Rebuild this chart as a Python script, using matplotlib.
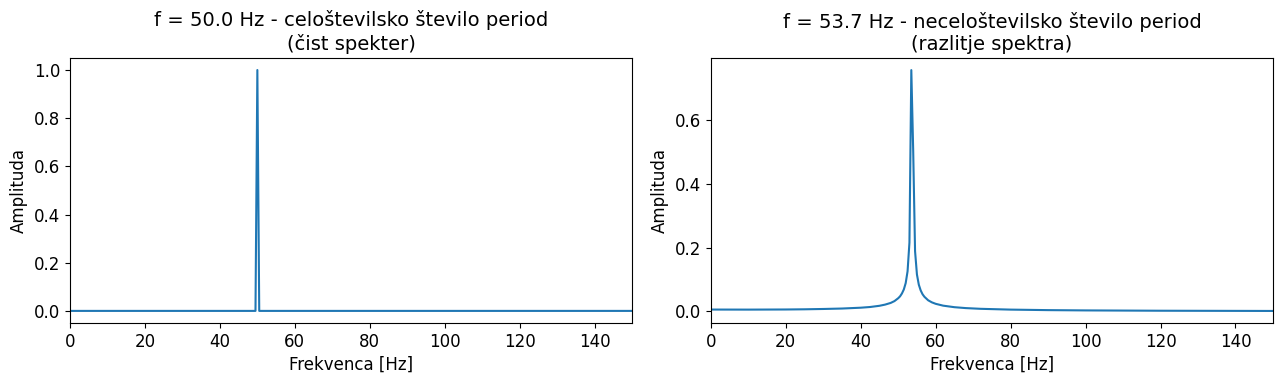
import matplotlib
matplotlib.use("Agg")
import matplotlib.pyplot as plt

# spekter pri f = 50.0 Hz (celo stevilo period) - locljivost 0.5 Hz
freq_a = [0.0, 49.0, 49.5, 50.0, 50.5, 51.0, 150.0, 160.0]
amp_a = [0.0, 0.0, 0.0, 1.0, 0.0, 0.0, 0.0, 0.0]

# spekter pri f = 53.7 Hz (razlitje spektra)
freq_b = [0.0, 10.0, 20.0, 25.0, 30.0, 35.0, 40.0, 42.5, 45.0, 46.5, 48.0,
          49.0, 50.0, 50.5, 51.0, 51.5, 52.0, 52.5, 53.0, 53.5, 54.0, 54.5,
          55.0, 55.5, 56.0, 56.5, 57.0, 58.0, 59.0, 60.0, 62.0, 65.0, 68.0,
          72.0, 80.0, 90.0, 100.0, 120.0, 150.0, 160.0]
amp_b = [0.006, 0.0058, 0.0062, 0.0068, 0.0078, 0.0092, 0.0118, 0.0140,
         0.0178, 0.0215, 0.0268, 0.0325, 0.0415, 0.0475, 0.0565, 0.0690,
         0.0890, 0.1260, 0.2160, 0.7570, 0.5050, 0.1890, 0.1160, 0.0840,
         0.0660, 0.0540, 0.0460, 0.0350, 0.0285, 0.0240, 0.0182, 0.0134,
         0.0106, 0.0083, 0.0058, 0.0042, 0.0033, 0.0023, 0.0016, 0.0014]

titles = [
    "f = 50.0 Hz - celoštevilsko število period\n(čist spekter)",
    "f = 53.7 Hz - neceloštevilsko število period\n(razlitje spektra)",
]

plt.rcParams["font.size"] = 12

fig, axes = plt.subplots(1, 2, figsize=(12.84, 3.84), dpi=100)
fig.subplots_adjust(left=0.0545, right=0.9914, bottom=0.159, top=0.849, wspace=0.14)

for ax, f, a, title in zip(axes, [freq_a, freq_b], [amp_a, amp_b], titles):
    ax.plot(f, a, color="#1f77b4", linewidth=1.5)
    ax.set_xlim(0, 150)
    ax.set_title(title, fontsize=14)
    ax.set_xlabel("Frekvenca [Hz]")
    ax.set_ylabel("Amplituda")

axes[0].set_ylim(-0.05, 1.05)
axes[1].set_ylim(-0.036, 0.795)

fig.savefig("out.png", dpi=100)
